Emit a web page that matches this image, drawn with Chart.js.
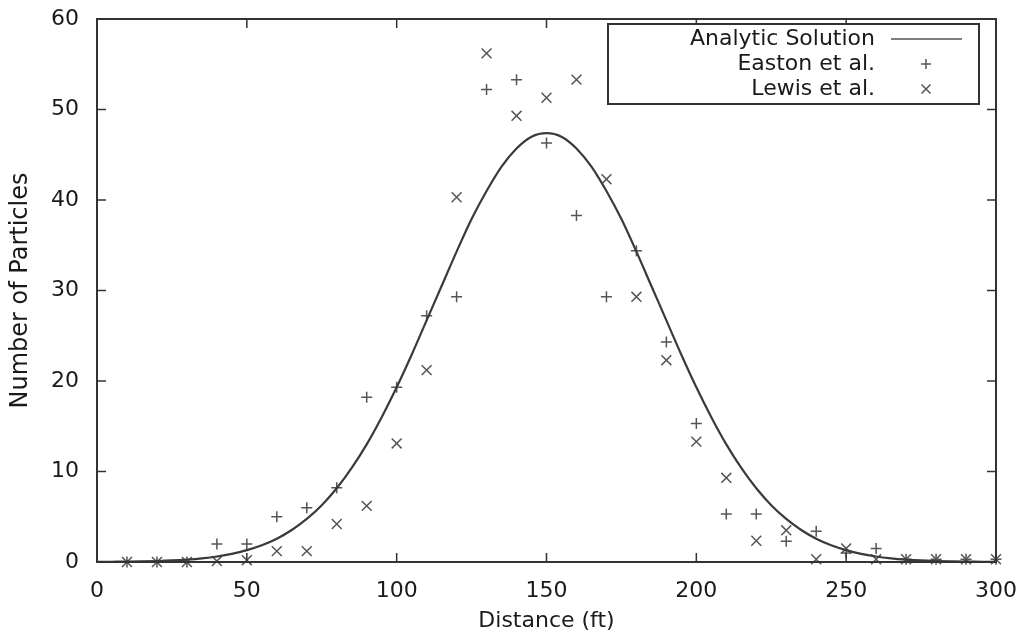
<!DOCTYPE html>
<html>
<head>
<meta charset="utf-8">
<script src="https://cdn.jsdelivr.net/npm/chart.js@4.4.0/dist/chart.umd.min.js"></script>
<style>
  html, body { margin: 0; padding: 0; background: #fff; }
  #wrap { width: 1025px; height: 642px; }
</style>
</head>
<body>
<div id="wrap"><canvas id="chart" width="1025" height="642"></canvas></div>
<script>
// distances where the measurements were taken (ft)
const distances = [10, 20, 30, 40, 50, 60, 70, 80, 90, 100, 110, 120, 130, 140, 150,
  160, 170, 180, 190, 200, 210, 220, 230, 240, 250, 260, 270, 280, 290, 300];

// Easton et al. (+)
const eastonValues = [0, 0, 0, 2, 2, 5, 6, 8.2, 18.2, 19.3, 27.2, 29.3, 52.2, 53.3, 46.3,
  38.3, 29.3, 34.4, 24.3, 15.3, 5.3, 5.3, 2.3, 3.4, 1, 1.5, 0.3, 0.3, 0.3, 0.3];

// Lewis et al. (x)
const lewisValues = [0, 0, 0, 0.1, 0.2, 1.2, 1.2, 4.2, 6.2, 13.1, 21.2, 40.3, 56.2, 49.3, 51.3,
  53.3, 42.3, 29.3, 22.3, 13.3, 9.3, 2.35, 3.5, 0.3, 1.5, 0.3, 0.3, 0.3, 0.3, 0.3];

// analytic solution, every 5 ft
const curveX = [0, 5, 10, 15, 20, 25, 30, 35, 40, 45, 50, 55, 60, 65, 70, 75, 80, 85, 90, 95,
  100, 105, 110, 115, 120, 125, 130, 135, 140, 145, 150, 155, 160, 165, 170, 175, 180, 185,
  190, 195, 200, 205, 210, 215, 220, 225, 230, 235, 240, 245, 250, 255, 260, 265, 270, 275,
  280, 285, 290, 295, 300];
const curveY = [0.02, 0.03, 0.04, 0.07, 0.11, 0.17, 0.27, 0.41, 0.61, 0.9, 1.31, 1.85, 2.58,
  3.54, 4.76, 6.28, 8.15, 10.4, 13.0, 16.0, 19.3, 22.9, 26.7, 30.5, 34.3, 37.9, 41.0, 43.7,
  45.7, 47.0, 47.4, 47.0, 45.7, 43.7, 41.0, 37.9, 34.3, 30.5, 26.7, 22.9, 19.3, 16.0, 13.0,
  10.4, 8.15, 6.28, 4.76, 3.54, 2.58, 1.85, 1.31, 0.9, 0.61, 0.41, 0.27, 0.17, 0.11, 0.07,
  0.04, 0.03, 0.02];

const xTicks = [0, 50, 100, 150, 200, 250, 300];
const yTicks = [0, 10, 20, 30, 40, 50, 60];

const FONT = "'DejaVu Sans', sans-serif";
const INK = "#333";
const TEXT = "#1a1a1a";

function pairs(xs, ys) {
  return xs.map((x, i) => ({ x: x, y: ys[i] }));
}

// box with inward ticks on all four sides, like gnuplot
const framePlugin = {
  id: "frame",
  afterDatasetsDraw(chart) {
    const { ctx, chartArea: a, scales } = chart;
    const len = 9;
    ctx.save();
    ctx.strokeStyle = INK;
    ctx.lineWidth = 2;
    ctx.strokeRect(a.left, a.top, a.right - a.left, a.bottom - a.top);
    ctx.lineWidth = 1.5;
    ctx.beginPath();
    xTicks.forEach((v) => {
      const px = scales.x.getPixelForValue(v);
      ctx.moveTo(px, a.bottom); ctx.lineTo(px, a.bottom - len);
      ctx.moveTo(px, a.top); ctx.lineTo(px, a.top + len);
    });
    yTicks.forEach((v) => {
      const py = scales.y.getPixelForValue(v);
      ctx.moveTo(a.left, py); ctx.lineTo(a.left + len, py);
      ctx.moveTo(a.right, py); ctx.lineTo(a.right - len, py);
    });
    ctx.stroke();
    ctx.restore();
  },
};

// key box in the top right corner, text right aligned, sample on the right
const keyPlugin = {
  id: "key",
  afterDraw(chart) {
    const { ctx, chartArea: a } = chart;
    const ds = chart.data.datasets;
    const boxL = a.right - 388, boxT = a.top + 5, boxR = a.right - 17, boxB = a.top + 85;
    const rowH = 25;
    ctx.save();
    ctx.strokeStyle = INK;
    ctx.lineWidth = 2;
    ctx.fillStyle = "#fff";
    ctx.fillRect(boxL, boxT, boxR - boxL, boxB - boxT);
    ctx.strokeRect(boxL, boxT, boxR - boxL, boxB - boxT);
    ctx.font = "22px " + FONT;
    ctx.textAlign = "right";
    ctx.textBaseline = "middle";
    ds.forEach((d, i) => {
      const y = boxT + 15 + i * rowH;
      ctx.fillStyle = TEXT;
      ctx.fillText(d.label, a.right - 121, y);
      const sx = a.right - 70;
      ctx.strokeStyle = "#555";
      ctx.lineWidth = 1.5;
      ctx.beginPath();
      if (d.showLine) {
        ctx.moveTo(a.right - 105, y);
        ctx.lineTo(a.right - 34, y);
      } else if (d.pointStyle === "cross") {
        ctx.moveTo(sx - 5, y); ctx.lineTo(sx + 5, y);
        ctx.moveTo(sx, y - 5); ctx.lineTo(sx, y + 5);
      } else {
        ctx.moveTo(sx - 4.5, y - 4.5); ctx.lineTo(sx + 4.5, y + 4.5);
        ctx.moveTo(sx + 4.5, y - 4.5); ctx.lineTo(sx - 4.5, y + 4.5);
      }
      ctx.stroke();
    });
    ctx.restore();
  },
};

new Chart(document.getElementById("chart"), {
  type: "scatter",
  data: {
    datasets: [
      {
        label: "Analytic Solution",
        data: pairs(curveX, curveY),
        showLine: true,
        borderColor: "#3a3a3a",
        borderWidth: 2.2,
        pointRadius: 0,
        cubicInterpolationMode: "monotone",
        clip: false,
      },
      {
        label: "Easton et al.",
        data: pairs(distances, eastonValues),
        pointStyle: "cross",
        pointRadius: 5.5,
        borderColor: "#555",
        borderWidth: 1.5,
        clip: false,
      },
      {
        label: "Lewis et al.",
        data: pairs(distances, lewisValues),
        pointStyle: "crossRot",
        pointRadius: 7,
        borderColor: "#555",
        borderWidth: 1.5,
        clip: false,
      },
    ],
  },
  options: {
    responsive: false,
    animation: false,
    layout: { padding: { top: 19, right: 21, left: 0, bottom: 0 } },
    plugins: {
      legend: { display: false },
      tooltip: { enabled: false },
    },
    scales: {
      x: {
        type: "linear",
        min: 0,
        max: 300,
        afterFit: (s) => { s.height = 80; },
        afterBuildTicks: (s) => { s.ticks = xTicks.map((v) => ({ value: v })); },
        ticks: { font: { family: FONT, size: 22 }, color: TEXT, padding: 8 },
        grid: { display: false },
        border: { display: false },
        title: {
          display: true,
          text: "Distance (ft)",
          font: { family: FONT, size: 22 },
          color: TEXT,
          padding: { top: 4, bottom: 8 },
        },
      },
      y: {
        min: 0,
        max: 60,
        afterFit: (s) => { s.width = 97; s.paddingTop = 0; s.paddingBottom = 0; },
        afterBuildTicks: (s) => { s.ticks = yTicks.map((v) => ({ value: v })); },
        ticks: { font: { family: FONT, size: 22 }, color: TEXT, padding: 10 },
        grid: { display: false },
        border: { display: false },
        title: {
          display: true,
          text: "Number of Particles",
          font: { family: FONT, size: 24 },
          color: TEXT,
          padding: { top: 6, bottom: 0 },
        },
      },
    },
  },
  plugins: [framePlugin, keyPlugin],
});
</script>
</body>
</html>
